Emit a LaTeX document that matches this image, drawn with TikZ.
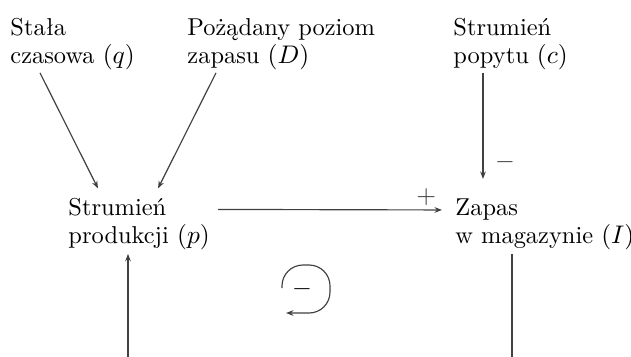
\documentclass[tikz,border=0pt]{standalone}
\usepackage{fontspec}
\usetikzlibrary{positioning,arrows.meta,calc}

\begin{document}
\begin{tikzpicture}[
    x=0.43pt, y=-0.43pt,
    font=\fontsize{10.5}{12}\selectfont,
    var/.style={align=left, inner sep=0pt, anchor=base west},
    sign/.style={inner sep=0pt},
    arr/.style={-{Stealth[length=3.2pt, width=2.4pt]}, black!75, line width=0.5pt}
  ]
    \useasboundingbox (0,0) rectangle (631,356);
    \node[var] (stala) at (10,63) {Stała\\czasowa $(q)$};
    \node[var] (zadany) at (187,63) {Pożądany poziom\\zapasu $(D)$};
    \node[var] (popyt) at (453,63) {Strumień\\popytu $(c)$};
    \node[var] (prod) at (68,243) {Strumień\\produkcji $(p)$};
    \node[var] (zap) at (455,243) {Zapas\\w magazynie $(I)$};
    \draw[arr] ($(stala.south west)+(30,3)$) -- ($(prod.north west)+(30,-9)$);
    \draw[arr] ($(zadany.south west)+(29,3)$) -- ($(prod.north west)+(90,-9)$);
    \draw[arr] ($(popyt.south west)+(30,3)$) -- node[sign, pos=0.84, right=5pt] {$-$} ($(zap.north west)+(28,-19)$);
    \draw[arr] ($(prod.north east)+(8,12)$) -- node[sign, pos=0.93, above=1.5pt] {$+$} ($(zap.north west)+(-13,12)$);
    \draw[arr] ($(zap.south west)+(57,4)$) -- ++(0,130) -| ($(prod.south west)+(60,4)$);
    % petla ujemna
    \draw[arr, rounded corners=9pt] (282,288) -- (282,265) -- (330,265) -- (330,313) -- (286,313);
    \node[sign] (minus) at (302,289) {$-$};
  \end{tikzpicture}
\end{document}
